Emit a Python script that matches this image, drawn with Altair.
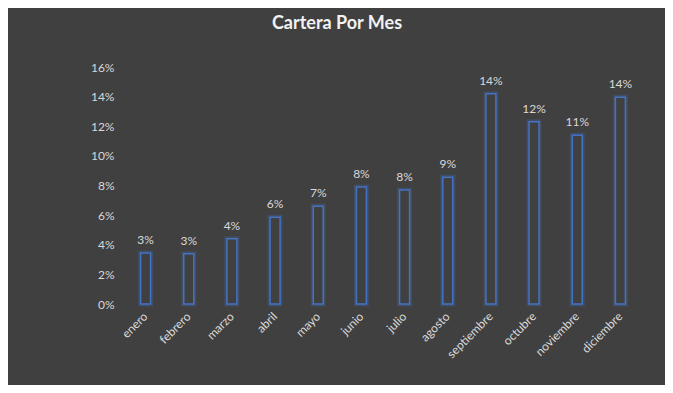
import altair as alt
import pandas as pd

months = ["enero", "febrero", "marzo", "abril", "mayo", "junio", "julio",
          "agosto", "septiembre", "octubre", "noviembre", "diciembre"]
values = [0.0345, 0.034, 0.044, 0.0585, 0.066, 0.079, 0.077, 0.0855,
          0.142, 0.123, 0.114, 0.1395]
y_ticks = [0, 0.02, 0.04, 0.06, 0.08, 0.10, 0.12, 0.14, 0.16]

df = pd.DataFrame({"mes": months, "valor": values})

FONT = "Lato"
LABEL = "#D9D9D9"
BLUE = "#4472C4"

x = alt.X("mes:N", sort=months, title=None,
          scale=alt.Scale(paddingInner=0, paddingOuter=0),
          axis=alt.Axis(labelAngle=-45, labelAlign="right", labelBaseline="middle",
                        labelPadding=10, domain=False, ticks=False,
                        labelColor=LABEL, labelFont=FONT, labelFontSize=12))
y = alt.Y("valor:Q", title=None,
          scale=alt.Scale(domain=[0, 0.16], nice=False),
          axis=alt.Axis(values=y_ticks, format=".0%", grid=False, domain=False,
                        ticks=False, labelPadding=10, labelColor=LABEL,
                        labelFont=FONT, labelFontSize=12))

base = alt.Chart(df)

glow = base.mark_bar(size=10, fill="transparent", stroke=BLUE,
                     strokeWidth=5, strokeOpacity=0.25).encode(x=x, y=y)
bars = base.mark_bar(size=10, fill="#404040", stroke=BLUE,
                     strokeWidth=1.5).encode(x=x, y=y)
labels = base.mark_text(dy=-13, baseline="middle", color=LABEL, font=FONT,
                        fontSize=12).encode(
    x=x, y=y, text=alt.Text("valor:Q", format=".0%"))

chart = alt.layer(glow, bars, labels).properties(
    width=518,
    height=237,
    background="#404040",
    padding={"left": 116, "top": 59, "right": 23, "bottom": 81},
    autosize=alt.AutoSizeParams(type="none"),
    title=alt.TitleParams("Cartera Por Mes", font=FONT, fontSize=18,
                          fontWeight="bold", color="#F2F2F2",
                          anchor="middle", dx=-46, offset=28),
).configure_view(stroke=None)

chart.save("out.html", embed_options={"renderer": "svg", "actions": False})
